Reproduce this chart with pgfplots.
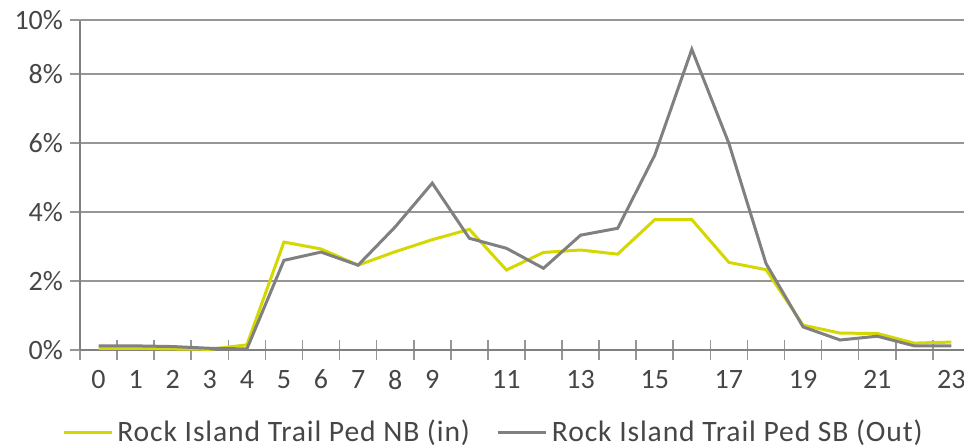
\documentclass[border=0pt]{standalone}
\usepackage{fontspec}
\setmainfont{Carlito}
\newfontfamily\legfont[LetterSpace=3]{Carlito}
\usepackage{pgfplots}
\pgfplotsset{compat=1.18}
\definecolor{nb}{RGB}{212,216,0}
\definecolor{sb}{RGB}{128,128,128}
\definecolor{gridc}{RGB}{150,150,150}
\definecolor{txt}{RGB}{70,70,70}

\begin{document}
\begin{tikzpicture}
\path[use as bounding box] (-40pt,-48pt) rectangle (442pt,175pt);
\begin{axis}[
  at={(0,0)}, anchor=south west,
  scale only axis, width=442pt, height=165pt,
  xmin=-0.5, xmax=23.34, ymin=0, ymax=9.57,
  axis lines=left, axis line style={-, draw=sb, line width=1pt},
  xtick={0,...,23},
  xticklabels={0,1,2,3,4,5,6,7,8,9,,11,,13,,15,,17,,19,,21,,23},
  major x tick style={draw=none},
  minor xtick={-0.5,0.5,...,22.5},
  minor x tick style={draw=gridc, line width=0.8pt},
  minor tick length=10pt,
  xtick align=center,
  xticklabel style={yshift=-4pt},
  ytick={0,2,4,6,8}, yticklabels={0\%,2\%,4\%,6\%,8\%},
  extra y ticks={9.57}, extra y tick labels={10\%},
  ytick align=outside, major tick length=5pt,
  y tick style={draw=gridc, line width=0.8pt},
  ymajorgrids, grid style={gridc, line width=0.8pt},
  tick label style={font=\fontsize{14}{16}\selectfont, text=txt},
  legend columns=2,
  legend style={draw=none, fill=none, at={(0,0)}, anchor=west,
    xshift=-9pt, yshift=-41pt, inner sep=0pt,
    font=\legfont\fontsize{14.8}{16}\selectfont, text=txt,
    /tikz/every even column/.append style={column sep=11.5pt}},
  legend image code/.code={\draw[#1] (-3.5pt,0pt) -- (20.5pt,0pt);},
]
\addplot[nb, line width=1.5pt] coordinates {
(0,0.05)(1,0.05)(2,0.03)(3,0.02)(4,0.15)(5,3.13)(6,2.93)(7,2.46)
(8,2.85)(9,3.2)(10,3.5)(11,2.32)(12,2.83)(13,2.9)(14,2.78)(15,3.78)
(16,3.78)(17,2.54)(18,2.33)(19,0.72)(20,0.49)(21,0.48)(22,0.2)(23,0.23)};
\addlegendentry{Rock Island Trail Ped NB (in)}
\addplot[sb, line width=1.5pt] coordinates {
(0,0.12)(1,0.12)(2,0.1)(3,0.05)(4,0.03)(5,2.6)(6,2.84)(7,2.46)
(8,3.57)(9,4.84)(10,3.24)(11,2.95)(12,2.37)(13,3.33)(14,3.53)(15,5.65)
(16,8.72)(17,5.99)(18,2.51)(19,0.67)(20,0.29)(21,0.4)(22,0.12)(23,0.12)};
\addlegendentry{Rock Island Trail Ped SB (Out)}
\end{axis}
\end{tikzpicture}
\end{document}
